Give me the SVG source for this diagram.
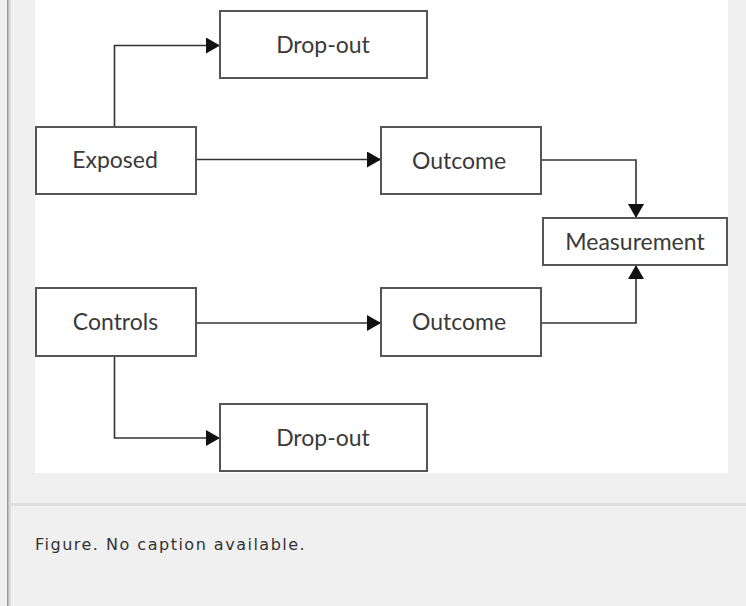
<svg xmlns="http://www.w3.org/2000/svg" width="746" height="606" viewBox="0 0 746 606">
  <style>
    .node rect { fill: #ffffff; stroke: #555555; stroke-width: 2; }
    .node text { font-family: Lato, "Open Sans", "DejaVu Sans", sans-serif; font-size: 23px; fill: #3a3a3a; text-anchor: middle; }
    .edge { fill: none; stroke: #333333; stroke-width: 1.6; marker-end: url(#arrow); }
    .caption { font-family: "DejaVu Sans", Verdana, sans-serif; font-size: 16px; fill: #333333; letter-spacing: 1.5px; }
  </style>
  <defs>
    <marker id="arrow" viewBox="0 0 14 16" refX="14" refY="8" markerWidth="14" markerHeight="16" markerUnits="userSpaceOnUse" orient="auto">
      <path d="M0,0 L14,8 L0,16 Z" fill="#111111"/>
    </marker>
  </defs>

  <!-- page frame -->
  <rect x="0" y="0" width="746" height="606" fill="#f0f0f0"/>
  <rect x="8" y="0" width="3" height="606" fill="#dcdcdc"/>
  <rect x="7" y="0" width="1.5" height="606" fill="#9a9a9a"/>
  <rect x="35" y="0" width="693" height="473" fill="#ffffff"/>
  <rect x="11" y="503" width="735" height="3" fill="#dedede"/>
  <text class="caption" x="35" y="550">Figure. No caption available.</text>

  <!-- connectors -->
  <g id="connectors">
    <path class="edge" d="M114.5,127 V45.5 H220"/>
    <path class="edge" d="M196,159.5 H381"/>
    <path class="edge" d="M541,160 H636 V218"/>
    <path class="edge" d="M196,323 H381"/>
    <path class="edge" d="M541,323 H636 V265"/>
    <path class="edge" d="M114.5,356 V438 H220"/>
  </g>

  <!-- nodes -->
  <g id="dropout-top" class="node">
    <rect x="220" y="11" width="207" height="67"/>
    <text x="323" y="53">Drop-out</text>
  </g>
  <g id="exposed" class="node">
    <rect x="36" y="127" width="160" height="67"/>
    <text x="115" y="168">Exposed</text>
  </g>
  <g id="outcome-top" class="node">
    <rect x="381" y="127" width="160" height="67"/>
    <text x="459" y="169">Outcome</text>
  </g>
  <g id="measurement" class="node">
    <rect x="543" y="218" width="184" height="47"/>
    <text x="635" y="250">Measurement</text>
  </g>
  <g id="controls" class="node">
    <rect x="36" y="288" width="160" height="68"/>
    <text x="115.5" y="330">Controls</text>
  </g>
  <g id="outcome-bottom" class="node">
    <rect x="381" y="288" width="160" height="68"/>
    <text x="459" y="330">Outcome</text>
  </g>
  <g id="dropout-bottom" class="node">
    <rect x="220" y="404" width="207" height="67"/>
    <text x="323" y="446">Drop-out</text>
  </g>
</svg>
